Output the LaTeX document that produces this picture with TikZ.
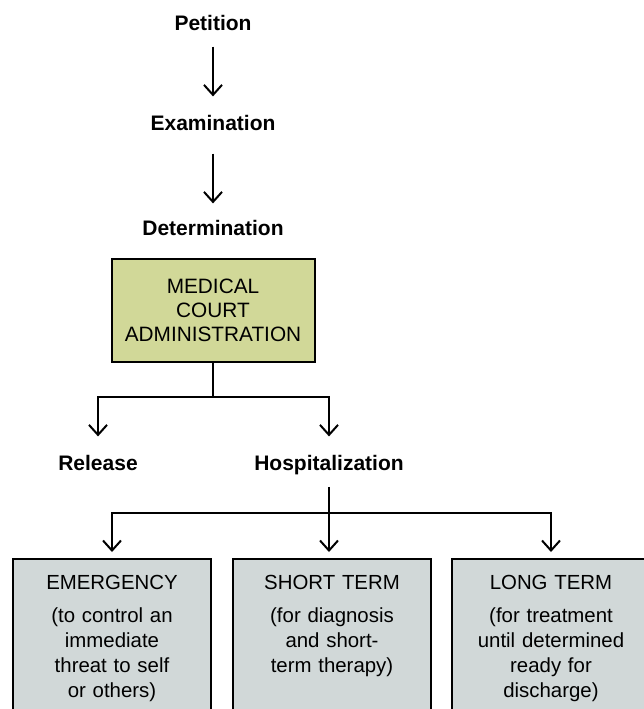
\documentclass[tikz,border=0pt]{standalone}
\usepackage{fontspec}
\setmainfont{Liberation Sans}
\usetikzlibrary{arrows.meta,positioning}

\definecolor{courtgreen}{HTML}{D1D898}
\definecolor{stepgray}{HTML}{D1D8D8}

\begin{document}
\begin{tikzpicture}[x=0.5pt,y=-0.5pt,
		stage/.style={font=\fontsize{10.5}{12.5}\selectfont\bfseries, inner sep=0pt, anchor=base},
		courtbox/.style={draw=black, fill=courtgreen, line width=1pt, minimum width=101.5pt, minimum height=51.5pt,
			align=center, font=\fontsize{10.4}{12}\selectfont},
		carebox/.style={draw=black, fill=stepgray, line width=1pt, anchor=north west, text width=91pt, inner xsep=4pt,
			inner ysep=8pt, align=center, text depth=120pt, font=\fontsize{10.2}{12.5}\selectfont},
		flow/.style={line width=1pt, -{Straight Barb[length=5pt,width=9pt,line width=1pt]}},
		link/.style={line width=1pt}]
		\useasboundingbox (0,0) rectangle (644,709);
		\clip (0,0) rectangle (644,709);

		\node[stage] (petition) at (213,30) {Petition};
		\node[stage] (exam) at (213,130) {Examination};
		\node[stage] (determ) at (213,235) {Determination};
		\node[courtbox] (court) at (213,310.5) {MEDICAL\\COURT\\ADMINISTRATION};
		\node[stage] (release) at (98,470) {Release};
		\node[stage] (hospital) at (329,470) {Hospitalization};

		\node[carebox] (emergency) at (12,558) {EMERGENCY\\[4pt](to control an\\immediate\\threat to self\\or others)};
		\node[carebox] (shortterm) at (232,558) {SHORT TERM\\[4pt](for diagnosis\\and short-\\term therapy)};
		\node[carebox] (longterm) at (451,558) {LONG TERM\\[4pt](for treatment\\until determined\\ready for\\discharge)};

		\coordinate (split1) at (213,397);
		\coordinate (split2) at (329,513);

		\draw[flow, shorten <=8pt, shorten >=9pt] (petition) -- (exam);
		\draw[flow, shorten <=11.5pt, shorten >=8pt] (exam) -- (determ);
		\draw[link] (court.south) -- (split1);
		\draw[flow, shorten >=9pt] (split1) -| (release.north);
		\draw[flow, shorten >=9pt] (split1) -| (hospital.north);
		\draw[link, shorten <=6pt] (hospital.south) -- (split2);
		\draw[flow, shorten >=3pt] (split2) -| (emergency.north);
		\draw[flow, shorten >=3pt] (split2) -- (split2 |- shortterm.north);
		\draw[flow, shorten >=3pt] (split2) -| (longterm.north);
	\end{tikzpicture}
\end{document}
